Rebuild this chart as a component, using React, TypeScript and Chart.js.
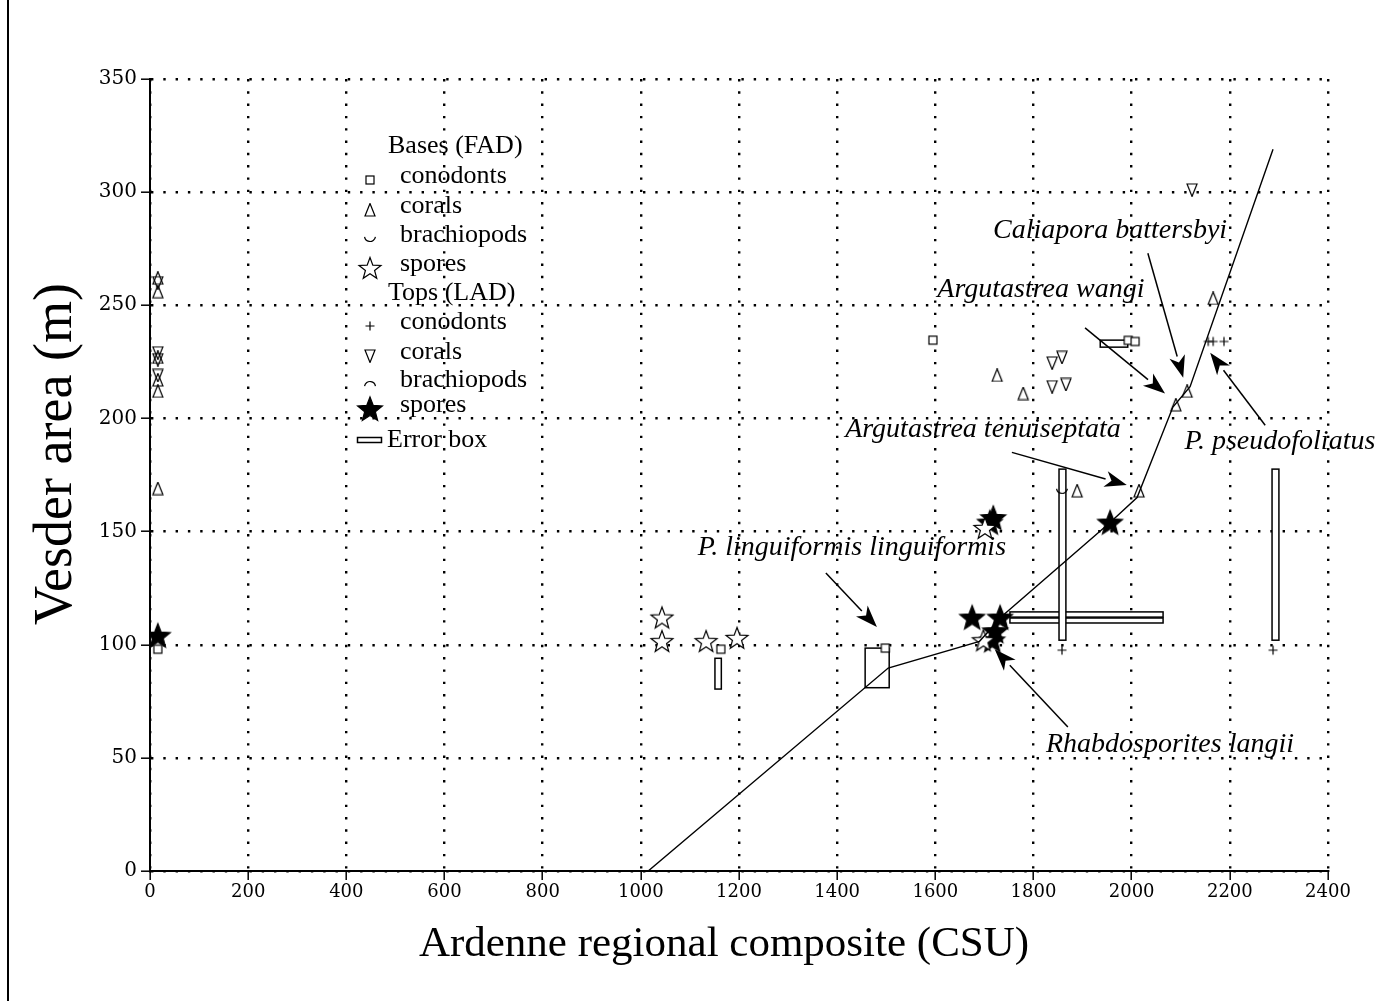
import React, { useEffect, useRef } from 'react';
import { Chart, registerables } from 'chart.js';

Chart.register(...registerables);

// ---------- data ----------
const xTickStep = 200;
const xMin = 0;
const xMax = 2400;
const yTickStep = 50;
const yMin = 0;
const yMax = 350;

const lineX = [1015, 1504, 1690, 1738, 1956, 2011, 2084, 2119, 2288];
const lineY = [0, 89.7, 101.5, 113, 154, 165, 205, 214, 319];

const conodontBaseX = [16, 1163, 1498, 1595, 1993, 2007];
const conodontBaseY = [98, 98, 98.5, 234.6, 234.5, 234];

const coralBaseX = [16, 16, 16, 16, 16, 16, 1726, 1779, 1889, 2015, 2090, 2113, 2166];
const coralBaseY = [262, 256, 227, 217, 212, 169, 219, 211, 168, 168, 206, 212, 253];

const brachiopodBaseX = [1858];
const brachiopodBaseY = [168];

const sporeBaseX = [1043, 1043, 1133, 1196, 1701, 1698];
const sporeBaseY = [112, 101.6, 101.6, 103, 151.6, 102];

const conodontTopX = [2156, 2166, 2188, 1858, 2288];
const conodontTopY = [234, 234, 234, 97.6, 97.6];

const coralTopX = [16, 16, 16, 16, 1838, 1858, 1838, 1866, 2123];
const coralTopY = [260, 229, 226, 219, 224.5, 227, 214, 215, 301];

const brachiopodTopX: number[] = [];
const brachiopodTopY: number[] = [];

const sporeTopX = [16, 1675, 1732, 1722, 1716, 1711, 1718, 1956];
const sporeTopY = [104, 112, 112, 106, 102, 154, 156, 154];

// error boxes (x range, y range)
const errX1 = [1151, 1457, 1936, 1752, 1752, 1852, 2286];
const errX2 = [1164, 1506, 1992, 2064, 2064, 1866, 2300];
const errY1 = [80.4, 81, 231.5, 112.2, 109.6, 102, 102];
const errY2 = [94, 98.5, 234.6, 114.5, 111.8, 177.6, 177.6];

// annotations: label, label anchor (data), arrow start & end (data)
const annLabels = [
  'Caliapora battersbyi',
  'Argutastrea wangi',
  'Argutastrea tenuiseptata',
  'P. pseudofoliatus',
  'P. linguiformis linguiformis',
  'Rhabdosporites langii',
];
const annTextX = [1956, 1815, 1697, 2302, 1430, 2078];
const annTextY = [283, 257, 195, 189.6, 142.7, 55.7];
const annFromX = [2033, 1905, 1756, 2272, 1377, 1870];
const annFromY = [273, 240, 185, 197, 131.7, 63.6];
const annToX = [2105, 2068, 1990, 2160, 1481, 1721];
const annToY = [218, 211, 170.6, 229, 107.8, 98];

const legendLabels = [
  'Bases (FAD)',
  'conodonts',
  'corals',
  'brachiopods',
  'spores',
  'Tops (LAD)',
  'conodonts',
  'corals',
  'brachiopods',
  'spores',
  'Error box',
];
const legendKinds = ['', 'square', 'triUp', 'cup', 'starOpen', '', 'plus', 'triDown', 'cap', 'starFilled', 'errbox'];

const xTitle = 'Ardenne regional composite (CSU)';
const yTitle = 'Vesder area (m)';

// ---------- markers ----------
function starPath(ctx: CanvasRenderingContext2D, cx: number, cy: number, ro: number, ri: number) {
  ctx.beginPath();
  for (let i = 0; i < 10; i++) {
    const r = i % 2 === 0 ? ro : ri;
    const a = -Math.PI / 2 + (i * Math.PI) / 5;
    const px = cx + r * Math.cos(a);
    const py = cy + r * Math.sin(a);
    if (i === 0) ctx.moveTo(px, py);
    else ctx.lineTo(px, py);
  }
  ctx.closePath();
}

function makeMarker(kind: string): HTMLCanvasElement {
  const c = document.createElement('canvas');
  let w = 14;
  let h = 14;
  if (kind === 'starOpen' || kind === 'starFilled') {
    w = 30;
    h = 30;
  }
  c.width = w;
  c.height = h;
  const ctx = c.getContext('2d')!;
  ctx.strokeStyle = '#000';
  ctx.fillStyle = '#000';
  ctx.lineWidth = 1.2;
  const cx = w / 2;
  const cy = h / 2;
  if (kind === 'square') {
    ctx.fillStyle = '#fff';
    ctx.fillRect(cx - 4, cy - 4, 8, 8);
    ctx.strokeRect(cx - 4, cy - 4, 8, 8);
  } else if (kind === 'triUp') {
    ctx.beginPath();
    ctx.moveTo(cx, cy - 6.5);
    ctx.lineTo(cx + 5, cy + 6);
    ctx.lineTo(cx - 5, cy + 6);
    ctx.closePath();
    ctx.stroke();
  } else if (kind === 'triDown') {
    ctx.beginPath();
    ctx.moveTo(cx - 5, cy - 6);
    ctx.lineTo(cx + 5, cy - 6);
    ctx.lineTo(cx, cy + 6.5);
    ctx.closePath();
    ctx.stroke();
  } else if (kind === 'cup') {
    ctx.beginPath();
    ctx.arc(cx, cy - 3, 5.5, 0.05 * Math.PI, 0.95 * Math.PI);
    ctx.stroke();
  } else if (kind === 'cap') {
    ctx.beginPath();
    ctx.arc(cx, cy + 3, 5.5, 1.05 * Math.PI, 1.95 * Math.PI);
    ctx.stroke();
  } else if (kind === 'plus') {
    ctx.beginPath();
    ctx.moveTo(cx - 4.5, cy);
    ctx.lineTo(cx + 4.5, cy);
    ctx.moveTo(cx, cy - 4.5);
    ctx.lineTo(cx, cy + 4.5);
    ctx.stroke();
  } else if (kind === 'starOpen') {
    starPath(ctx, cx, cy + 1, 11.5, 4.8);
    ctx.fillStyle = '#fff';
    ctx.fill();
    ctx.stroke();
  } else if (kind === 'starFilled') {
    starPath(ctx, cx, cy + 1, 13, 5.6);
    ctx.fill();
    ctx.stroke();
  }
  return c;
}

function pts(xs: number[], ys: number[]) {
  return xs.map((x, i) => ({ x, y: ys[i] }));
}

const serif = '"Liberation Serif", "Times New Roman", serif';

export default function App() {
  const ref = useRef<HTMLCanvasElement | null>(null);

  useEffect(() => {
    if (!ref.current) return;
    const markers: Record<string, HTMLCanvasElement> = {};
    ['square', 'triUp', 'triDown', 'cup', 'cap', 'plus', 'starOpen', 'starFilled'].forEach((k) => {
      markers[k] = makeMarker(k);
    });

    const errorBoxPlugin = {
      id: 'errorBoxes',
      beforeDatasetsDraw(chart: any) {
        const { ctx, scales } = chart;
        const xs = scales.x;
        const ys = scales.y;
        ctx.save();
        ctx.strokeStyle = '#000';
        ctx.lineWidth = 1.5;
        ctx.fillStyle = '#fff';
        for (let i = 0; i < errX1.length; i++) {
          const l = xs.getPixelForValue(errX1[i]);
          const r = xs.getPixelForValue(errX2[i]);
          const t = ys.getPixelForValue(errY2[i]);
          const b = ys.getPixelForValue(errY1[i]);
          ctx.fillRect(l, t, r - l, b - t);
          ctx.strokeRect(l, t, r - l, b - t);
        }
        ctx.restore();
      },
    };

    const drawArrow = (ctx: CanvasRenderingContext2D, x1: number, y1: number, x2: number, y2: number) => {
      const ang = Math.atan2(y2 - y1, x2 - x1);
      const hl = 22;
      const hw = 8;
      const bx = x2 - hl * Math.cos(ang);
      const by = y2 - hl * Math.sin(ang);
      ctx.beginPath();
      ctx.moveTo(x1, y1);
      ctx.lineTo(bx, by);
      ctx.stroke();
      ctx.beginPath();
      ctx.moveTo(x2, y2);
      ctx.lineTo(bx + hw * Math.sin(ang), by - hw * Math.cos(ang));
      ctx.lineTo(x2 - 0.72 * hl * Math.cos(ang), y2 - 0.72 * hl * Math.sin(ang));
      ctx.lineTo(bx - hw * Math.sin(ang), by + hw * Math.cos(ang));
      ctx.closePath();
      ctx.fill();
    };

    const overlayPlugin = {
      id: 'overlay',
      afterDraw(chart: any) {
        const { ctx, scales } = chart;
        const xs = scales.x;
        const ys = scales.y;
        ctx.save();
        ctx.fillStyle = '#000';
        ctx.strokeStyle = '#000';
        // annotations
        ctx.font = `italic 28px ${serif}`;
        ctx.textAlign = 'center';
        ctx.textBaseline = 'middle';
        ctx.lineWidth = 1.5;
        for (let i = 0; i < annLabels.length; i++) {
          ctx.fillText(annLabels[i], xs.getPixelForValue(annTextX[i]), ys.getPixelForValue(annTextY[i]));
          drawArrow(
            ctx,
            xs.getPixelForValue(annFromX[i]),
            ys.getPixelForValue(annFromY[i]),
            xs.getPixelForValue(annToX[i]),
            ys.getPixelForValue(annToY[i])
          );
        }
        // legend
        const rowY = [146, 176, 206, 235, 264, 293, 322, 352, 380, 405, 440];
        ctx.font = `26px ${serif}`;
        ctx.textAlign = 'left';
        for (let i = 0; i < legendLabels.length; i++) {
          const kind = legendKinds[i];
          const y = rowY[i];
          if (kind === '') {
            ctx.fillText(legendLabels[i], 388, y);
          } else if (kind === 'errbox') {
            ctx.lineWidth = 1.5;
            ctx.strokeRect(357.5, 437.5, 24, 5);
            ctx.fillText(legendLabels[i], 387, y);
          } else {
            const m = markers[kind];
            ctx.drawImage(m, 370 - m.width / 2, y + 4 - m.height / 2);
            ctx.fillText(legendLabels[i], 400, y);
          }
        }
        // axis titles
        ctx.font = `43px ${serif}`;
        ctx.textAlign = 'center';
        ctx.fillText(xTitle, 724, 945);
        ctx.translate(57, 454);
        ctx.rotate(-Math.PI / 2);
        ctx.font = `54px ${serif}`;
        ctx.fillText(yTitle, 0, 0);
        ctx.restore();
      },
    };

    const scatterSet = (label: string, xs: number[], ys: number[], kind: string) => ({
      type: 'scatter' as const,
      label,
      data: pts(xs, ys),
      pointStyle: markers[kind],
      pointRadius: 6,
      borderColor: '#000',
      backgroundColor: '#000',
      showLine: false,
    });

    const gridCommon = {
      color: '#000',
      lineWidth: 2.4,
      tickLength: 9,
      tickWidth: 1.5,
      tickColor: '#000',
      tickBorderDash: [],
      drawTicks: true,
    };
    const borderCommon = { display: true, color: '#000', width: 2, dash: [2.4, 9.9] };

    const chart = new Chart(ref.current, {
      type: 'scatter',
      data: {
        datasets: [
          {
            type: 'line' as const,
            label: 'correlation',
            data: pts(lineX, lineY),
            borderColor: '#000',
            borderWidth: 1.4,
            pointRadius: 0,
            fill: false,
            tension: 0,
          } as any,
          scatterSet('Bases conodonts', conodontBaseX, conodontBaseY, 'square'),
          scatterSet('Bases corals', coralBaseX, coralBaseY, 'triUp'),
          scatterSet('Bases brachiopods', brachiopodBaseX, brachiopodBaseY, 'cup'),
          scatterSet('Bases spores', sporeBaseX, sporeBaseY, 'starOpen'),
          scatterSet('Tops conodonts', conodontTopX, conodontTopY, 'plus'),
          scatterSet('Tops corals', coralTopX, coralTopY, 'triDown'),
          scatterSet('Tops brachiopods', brachiopodTopX, brachiopodTopY, 'cap'),
          scatterSet('Tops spores', sporeTopX, sporeTopY, 'starFilled'),
        ],
      },
      options: {
        responsive: false,
        animation: false,
        events: [],
        layout: { padding: { top: 79, right: 57, bottom: 0, left: 0 } },
        plugins: {
          legend: { display: false },
          tooltip: { enabled: false },
          title: { display: false },
        },
        scales: {
          x: {
            type: 'linear',
            min: xMin,
            max: xMax,
            afterFit: (s: any) => {
              s.height = 130;
            },
            ticks: {
              stepSize: xTickStep,
              color: '#000',
              font: { family: '"DejaVu Serif", serif', size: 18 },
              padding: 2,
              maxRotation: 0,
              autoSkip: false,
              callback: (v: any) => String(v),
            },
            grid: gridCommon as any,
            border: borderCommon as any,
          },
          y: {
            type: 'linear',
            min: yMin,
            max: yMax,
            afterFit: (s: any) => {
              s.width = 150;
            },
            ticks: {
              stepSize: yTickStep,
              color: '#000',
              font: { family: '"DejaVu Serif", serif', size: 20 },
              padding: 4,
              autoSkip: false,
              callback: (v: any) => String(v),
            },
            grid: gridCommon as any,
            border: borderCommon as any,
          },
        },
      },
      plugins: [errorBoxPlugin, overlayPlugin],
    } as any);

    return () => chart.destroy();
  }, []);

  return (
    <div style={{ position: 'absolute', left: 0, top: 0, width: 1385, height: 1001, background: '#fff' }}>
      <div style={{ position: 'absolute', left: 7, top: 0, width: 1.5, height: 1001, background: '#000' }} />
      <canvas ref={ref} width={1385} height={1001} style={{ position: 'absolute', left: 0, top: 0, width: 1385, height: 1001 }} />
    </div>
  );
}
